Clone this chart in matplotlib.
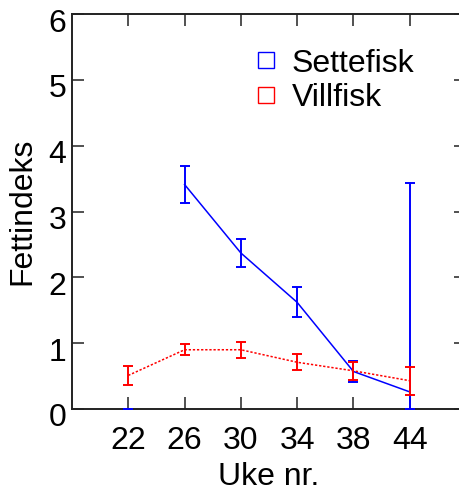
import matplotlib
matplotlib.use('Agg')
import matplotlib.pyplot as plt
import matplotlib.transforms as mtransforms
from matplotlib.lines import Line2D

plt.rcParams['font.family'] = ['Liberation Sans', 'DejaVu Sans']

uker = ['22', '26', '30', '34', '38', '44']
settefisk = [0.0, 3.41, 2.37, 1.62, 0.57, 0.26]
settefisk_lo = [0.0, 0.28, 0.21, 0.23, 0.16, 0.26]
settefisk_hi = [0.0, 0.28, 0.21, 0.23, 0.16, 3.17]
villfisk = [0.51, 0.90, 0.90, 0.71, 0.58, 0.43]
villfisk_err = [0.15, 0.08, 0.12, 0.12, 0.14, 0.21]

x = list(range(1, len(uker) + 1))

fig = plt.figure(figsize=(4.6, 4.91), dpi=100)
ax = fig.add_axes([72 / 460, 82 / 491, 394 / 460, 395 / 491])

blue = '#0000ff'
red = '#ff0000'

# settefisk: ingen linje for uke 22
ax.plot(x[1:], settefisk[1:], color=blue, lw=1.1)
eb1 = ax.errorbar(x, settefisk, yerr=[settefisk_lo, settefisk_hi], fmt='none',
                  ecolor=blue, elinewidth=1.4, capsize=3.8, capthick=1.4)
ax.plot(x, villfisk, color=red, lw=1.1, ls=(0, (1.5, 1.2)))
eb2 = ax.errorbar(x, villfisk, yerr=villfisk_err, fmt='none', ecolor=red,
                  elinewidth=1.4, capsize=3.8, capthick=1.4)
for eb in (eb1, eb2):
    for art in eb.lines[1] + eb.lines[2]:
        art.set_clip_on(False)
        art.set_zorder(3)

ax.set_xlim(0, 7)
ax.set_ylim(0, 6)
ax.set_xticks(x)
ax.set_xticklabels(uker)
ax.set_yticks(range(0, 7))

ax.tick_params(direction='in', length=8.6, width=1.1, top=True, right=True,
               labelsize=23, color='#222222')
ax.tick_params(axis='x', pad=12)
ax.tick_params(axis='y', pad=4)
for lab in ax.get_yticklabels():
    lab.set_transform(lab.get_transform() +
                      mtransforms.ScaledTranslation(0, -6 / 100, fig.dpi_scale_trans))
for s in ax.spines.values():
    s.set_linewidth(1.4)
    s.set_color('#222222')

ax.set_xlabel('Uke nr.', fontsize=23, labelpad=4.5)
ax.set_ylabel('Fettindeks', fontsize=23, labelpad=8)

handles = [
    Line2D([], [], ls='none', marker='s', markersize=11, markerfacecolor='none',
           markeredgecolor=blue, markeredgewidth=1.0),
    Line2D([], [], ls='none', marker='s', markersize=11, markerfacecolor='none',
           markeredgecolor=red, markeredgewidth=1.0),
]
ax.legend(handles, ['Settefisk', 'Villfisk'], loc='upper left',
          bbox_to_anchor=(0.42, 0.945), frameon=False, fontsize=23,
          handlelength=1.0, handletextpad=0.3, labelspacing=0.15,
          borderaxespad=0)

fig.savefig('out.png', dpi=100)
